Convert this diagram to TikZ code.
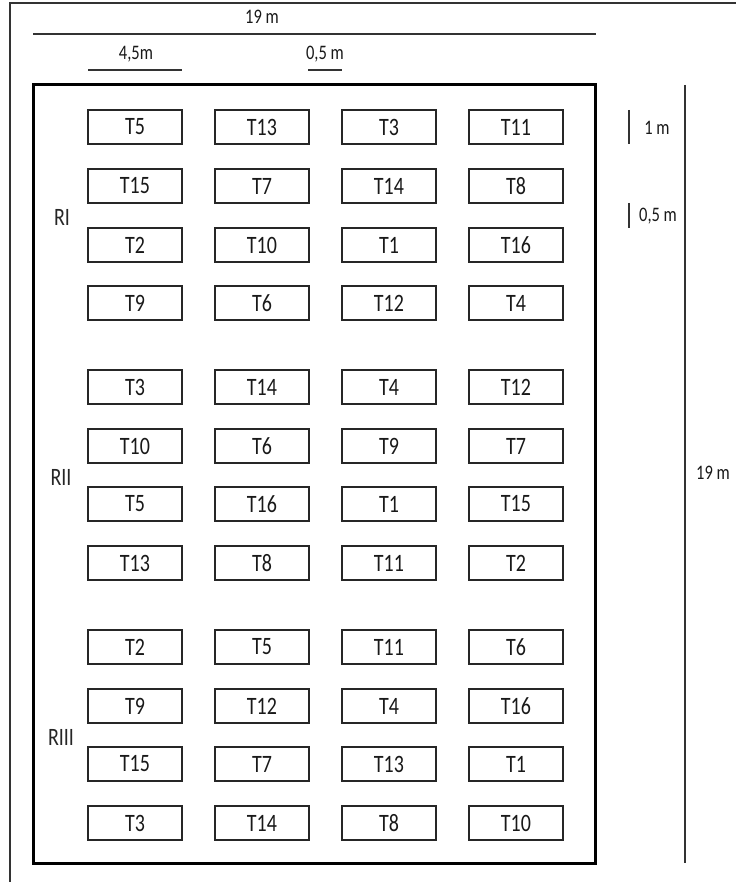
\documentclass[tikz,border=0pt]{standalone}
\usepackage{fontspec}
\setmainfont{Carlito}
\usepackage{tikz}
\usetikzlibrary{positioning}

% text in the plan is a little taller than wide
\newcommand{\tallt}[1]{\scalebox{1}[1.25]{#1}}

\begin{document}
\begin{tikzpicture}[
    x=1pt, y=-1pt,
    plot/.style={draw=black!85, line width=1.4pt, minimum width=94pt, minimum height=34pt,
                 inner sep=0pt, text=black!90, font=\fontsize{20}{22}\selectfont},
    rep/.style={text=black!85, font=\fontsize{20}{22}\selectfont},
    dim/.style={text=black!90, font=\fontsize{16.5}{18}\selectfont},
    dimline/.style={draw=black!80, line width=1.4pt},
  ]
  \useasboundingbox (0,0) rectangle (736,882);
  % frame of the page
  \draw[dimline] (10,882) -- (10,3) -- (736,3);
  % field
  \draw[line width=3pt] (33,85) rectangle (595,863);
  % plots, one row per line
  \foreach \r/\y/\ta/\tb/\tc/\td in {
      1/127/5/13/3/11, 2/186/15/7/14/8, 3/245/2/10/1/16, 4/303/9/6/12/4,
      5/387/3/14/4/12, 6/446/10/6/9/7, 7/504/5/16/1/15, 8/563/13/8/11/2,
      9/647/2/5/11/6, 10/706/9/12/4/16, 11/764/15/7/13/1, 12/823/3/14/8/10}{
    \node[plot] (p\r a) at (135,\y) {\tallt{T\ta}};
    \node[plot] (p\r b) at (262,\y) {\tallt{T\tb}};
    \node[plot] (p\r c) at (389,\y) {\tallt{T\tc}};
    \node[plot] (p\r d) at (516,\y) {\tallt{T\td}};
  }
  % replications
  \node[rep] (r1) at (62,217) {\tallt{RI}};
  \node[rep] (r2) at (61,477) {\tallt{RII}};
  \node[rep] (r3) at (61,737) {\tallt{RIII}};
  % dimensions on top
  \node[dim] (wtot) at (262,17) {\tallt{19 m}};
  \draw[dimline] (33,34) -- (596,34);
  \node[dim] (wplot) at (136,54) {\tallt{4,5m}};
  \draw[dimline] (88,70) -- (182,70);
  \node[dim] (wgap) at (325,54) {\tallt{0,5 m}};
  \draw[dimline] (308,70) -- (342,70);
  % dimensions on the right
  \draw[dimline] (685,85) -- (685,863);
  \node[dim] (htot) at (713,473) {\tallt{19 m}};
  \draw[dimline] (629,110) -- (629,144);
  \node[dim] (hplot) at (657,128) {\tallt{1 m}};
  \draw[dimline] (629,203) -- (629,228);
  \node[dim] (hgap) at (658,216) {\tallt{0,5 m}};
\end{tikzpicture}
\end{document}
